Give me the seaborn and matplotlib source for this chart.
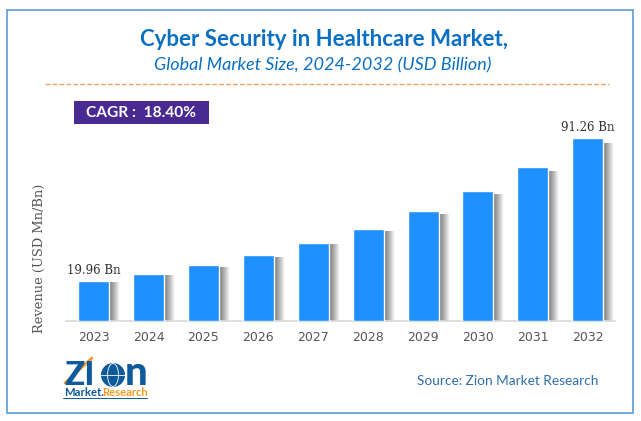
"""Cyber security in healthcare market size bar chart."""

import matplotlib

matplotlib.use("Agg")
import matplotlib.pyplot as plt
import numpy as np
import pandas as pd
import seaborn as sns
from matplotlib.patches import Circle, Ellipse, Rectangle

years = ["2023", "2024", "2025", "2026", "2027", "2028", "2029", "2030", "2031", "2032"]
revenue = [19.96, 23.2, 27.7, 32.7, 39.1, 46.1, 54.6, 64.8, 76.8, 91.26]
bar_labels = {"2023": "19.96 Bn", "2032": "91.26 Bn"}

BAR_BLUE = "#1e90ff"
TITLE_BLUE = "#0b6fc2"
LOGO_BLUE = "#0f5a9c"
LOGO_ORANGE = "#f39a24"
SOURCE_BLUE = "#2f6ea8"
FRAME = "#5b9bd5"
GREY = "#555555"
W, H = 641, 421

sns.set_theme(style="white")
plt.rcParams["font.family"] = ["Lato", "DejaVu Sans"]

fig = plt.figure(figsize=(W / 100, H / 100), dpi=100, facecolor="white")

# chart axes, placed by pixel box
ax = fig.add_axes([66.2 / W, 1 - 321 / H, 549 / W, 211 / H])
df = pd.DataFrame({"year": years, "revenue": revenue})
sns.barplot(data=df, x="year", y="revenue", color=BAR_BLUE, saturation=1, width=0.565, ax=ax, zorder=3)
ax.set_xlabel("")
ax.set_ylabel("")
ax.set_yticks([])
sns.despine(ax=ax, left=True)
ax.spines["bottom"].set_color("#d9d9d9")
ax.spines["bottom"].set_linewidth(1.2)
ax.tick_params(axis="x", length=0, pad=7, labelsize=9, labelcolor=GREY)
for lab in ax.get_xticklabels():
    lab.set_fontfamily("DejaVu Sans")
ax.patch.set_alpha(0)

# soft shadow on the right of each bar
fade = np.linspace(0, 1, 32).reshape(1, -1)
shadow_cmap = matplotlib.colors.LinearSegmentedColormap.from_list("shadow", ["#777777", "#b5b5b5", "#ffffff"])
for bar, year in zip(ax.patches, years):
    x1 = bar.get_x() + bar.get_width()
    top = bar.get_height()
    ax.imshow(fade, extent=(x1, x1 + 0.2, 0, top * 0.97), aspect="auto", cmap=shadow_cmap, zorder=2)
    if year in bar_labels:
        ax.annotate(bar_labels[year], (bar.get_x() + bar.get_width() / 2, top), xytext=(0, 2.5),
                    textcoords="offset points", ha="center", va="bottom", fontsize=8.5,
                    family="DejaVu Serif", color="#333333")
ax.set_xlim(-0.5, 9.5)
ax.set_ylim(0, 105.2)

# overlay in pixel coordinates for frame, titles and logo
top = fig.add_axes([0, 0, 1, 1], zorder=5)
top.set_xlim(0, W)
top.set_ylim(H, 0)
top.axis("off")
top.patch.set_alpha(0)

top.add_patch(Rectangle((6.5, 9.5), 626, 403, fill=False, edgecolor=FRAME, linewidth=1.2))
top.text(324, 39, "Cyber Security in Healthcare Market,", ha="center", va="center",
         fontsize=16, fontweight="bold", color=TITLE_BLUE)
top.text(323, 65, "Global Market Size, 2024-2032 (USD Billion)", ha="center", va="center",
         fontsize=13, fontstyle="italic", color=TITLE_BLUE)
top.plot([45, 609], [84, 84], color="#f5a36a", linewidth=1, linestyle=(0, (3.5, 1.5)))

top.add_patch(Rectangle((74, 101), 135, 23, facecolor="#482a92", edgecolor="none"))
top.text(141, 113, "CAGR :  18.40%", ha="center", va="center", fontsize=11.2,
         fontweight="bold", color="white")

top.text(39, 258, "Revenue (USD Mn/Bn)", rotation=90, ha="center", va="center",
         fontsize=9.4, family="DejaVu Serif", color=GREY)
top.text(507.5, 381, "Source: Zion Market Research", ha="center", va="center",
         fontsize=9.8, color=SOURCE_BLUE)

# logo
top.text(64, 385, "ZI", ha="left", va="baseline", fontsize=24, fontweight="black", color=LOGO_BLUE)
top.plot([65, 92], [383, 358], color=LOGO_ORANGE, linewidth=2)
top.add_patch(Circle((113, 375), 12, facecolor=LOGO_BLUE, edgecolor="none"))
top.add_patch(Ellipse((113, 375), 11, 23, fill=False, edgecolor="white", linewidth=0.6))
top.plot([101, 125], [375, 375], color="white", linewidth=0.6)
top.text(125, 385, "n", ha="left", va="baseline", fontsize=29, fontweight="black", color=LOGO_BLUE)
top.text(64, 396, "Market.", ha="left", va="baseline", fontsize=8.2, fontweight="bold", color=LOGO_BLUE)
top.text(102, 396, "Research", ha="left", va="baseline", fontsize=8.1, fontweight="bold", color=LOGO_ORANGE)
top.plot([63, 147], [398, 398], color=LOGO_BLUE, linewidth=0.7)

fig.savefig("out.png", dpi=100, facecolor="white")
